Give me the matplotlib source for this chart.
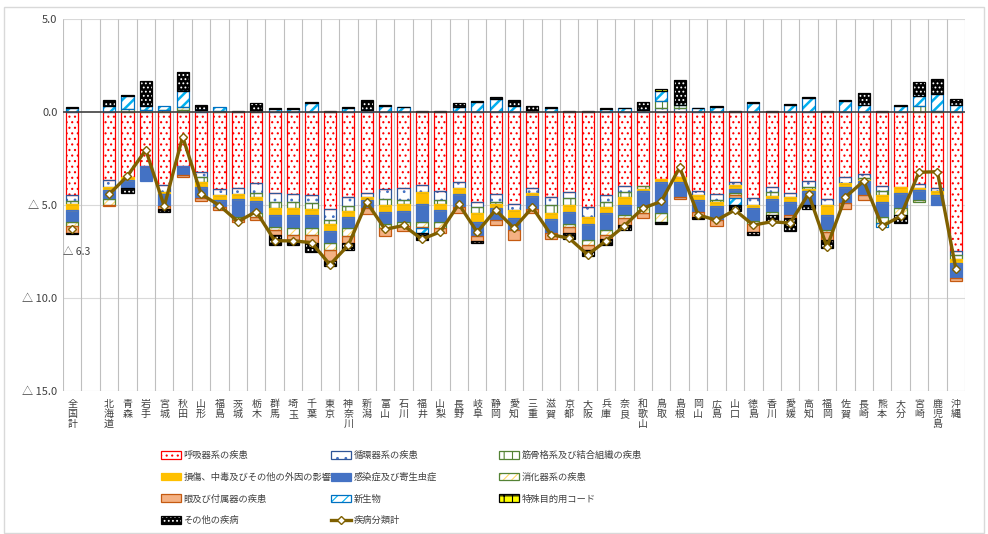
import numpy as np
import matplotlib.pyplot as plt
from matplotlib.patches import Patch, Rectangle
from matplotlib.lines import Line2D
from matplotlib.legend_handler import HandlerTuple

plt.rcParams['font.family'] = ['Noto Sans CJK JP', 'DejaVu Sans']
plt.rcParams['hatch.linewidth'] = 0.8

# 都道府県 (2番目は空欄)
prefs = ['全国計', '', '北海道', '青森', '岩手', '宮城', '秋田', '山形', '福島',
         '茨城', '栃木', '群馬', '埼玉', '千葉', '東京', '神奈川', '新潟', '富山',
         '石川', '福井', '山梨', '長野', '岐阜', '静岡', '愛知', '三重', '滋賀',
         '京都', '大阪', '兵庫', '奈良', '和歌山', '鳥取', '島根', '岡山', '広島',
         '山口', '徳島', '香川', '愛媛', '高知', '福岡', '佐賀', '長崎', '熊本',
         '大分', '宮崎', '鹿児島', '沖縄']

resp = [-4.46, 0, -3.66, -3.48, -2.89, -3.92, -2.89, -3.21, -4.16, -4.10, -3.84, -4.34,
        -4.41, -4.46, -5.23, -4.55, -4.37, -4.14, -4.10, -3.92, -4.25, -3.78, -4.82,
        -4.43, -4.95, -4.10, -4.59, -4.28, -5.09, -4.46, -3.98, -3.96, -3.62, -3.51,
        -4.23, -4.43, -3.75, -4.64, -4.01, -4.34, -3.69, -4.70, -3.51, -3.33, -3.98,
        -4.05, -3.87, -4.10, -7.46]
circ = [-0.32, 0, -0.36, 0, 0, -0.36, 0, -0.30, -0.30, -0.30, -0.54, -0.52,
        -0.45, -0.45, -0.57, -0.48, -0.20, -0.56, -0.63, -0.36, -0.48, -0.29, -0.30,
        -0.39, -0.32, -0.23, -0.41, -0.36, -0.54, -0.36, -0.30, 0, 0.20, 0.20,
        -0.23, -0.30, -0.20, -0.36, -0.30, -0.25, -0.32, -0.30, -0.29, -0.23, -0.25,
        0, -0.23, -0.13, -0.23]
musc = [-0.18, 0, 0, 0.15, 0.10, 0.10, 0.10, -0.23, 0.05, 0, -0.20, -0.32,
        -0.32, -0.32, -0.23, -0.27, 0, -0.30, -0.23, 0, -0.23, 0, -0.32,
        -0.10, 0, 0, -0.45, -0.36, 0, -0.27, -0.27, -0.18, 0.40, 0.15,
        0, -0.09, 0, 0, -0.18, 0, -0.15, 0, 0, -0.12, -0.23,
        0, 0.30, 0.05, -0.23]
injury = [-0.30, 0, -0.20, -0.18, 0, -0.15, 0, -0.27, -0.27, -0.29, -0.23, -0.36,
          -0.36, -0.30, -0.36, -0.36, -0.15, -0.39, -0.34, -0.66, -0.30, -0.34, -0.45,
          -0.23, -0.45, -0.18, -0.32, -0.39, -0.39, -0.36, -0.45, -0.10, -0.13, -0.23,
          -0.27, -0.23, -0.20, -0.18, -0.18, -0.23, -0.10, -0.54, -0.25, -0.05, -0.36,
          -0.32, -0.12, -0.23, -0.22]
infect = [-0.66, 0, -0.47, -0.45, -0.80, -0.60, -0.50, -0.63, -0.40, -0.93, -0.63, -0.63,
          -0.68, -0.72, -0.66, -0.59, -0.45, -0.62, -0.60, -0.95, -0.63, -0.72, -0.75,
          -0.66, -0.63, -0.72, -0.75, -0.63, -0.86, -0.90, -0.54, -0.86, -1.70, -0.84,
          -0.63, -0.75, -0.22, -0.66, -0.72, -0.72, -0.75, -0.81, -0.82, -0.72, -0.81,
          -0.81, -0.50, -0.54, -0.81]
digest = [-0.23, 0, -0.29, 0, 0, 0, 0.15, 0, 0, -0.18, -0.20, -0.20,
          -0.39, -0.36, -0.39, -0.41, 0, -0.20, -0.23, -0.27, -0.36, 0, 0,
          0, 0, 0, 0, -0.18, -0.27, -0.27, -0.18, -0.35, -0.45, 0,
          0, 0, -0.10, -0.18, -0.14, 0, 0, -0.12, 0, 0, -0.36,
          -0.36, -0.12, 0, 0]
eye = [-0.35, 0, -0.10, 0, 0, -0.18, -0.09, -0.12, -0.15, -0.14, -0.18, -0.23,
       -0.27, -0.41, -0.59, -0.36, -0.33, -0.45, -0.25, -0.09, -0.27, -0.32, -0.32,
       -0.27, -0.54, -0.22, -0.32, -0.32, -0.27, -0.23, -0.36, -0.27, 0, -0.10,
       -0.30, -0.32, -0.15, -0.41, 0, -0.18, 0, -0.41, -0.36, -0.27, 0,
       0, 0, 0, -0.15]
neo = [0.20, 0, 0.30, 0.70, 0.20, 0.20, 0.86, 0.12, 0.20, 0, 0, 0.18,
       0.16, 0.47, 0, 0.20, 0.10, 0.32, 0.25, -0.27, 0, 0.25, 0.56,
       0.68, 0.32, 0, 0.20, 0, 0, 0.18, 0.20, 0.10, 0.55, 0.05,
       0.20, 0.27, -0.36, 0.50, 0, 0.38, 0.77, 0, 0.61, 0.38, -0.18,
       0.32, 0.58, 0.93, 0.38]
special = [0.05, 0, 0, 0.05, 0, 0, 0, 0, 0, 0.05, 0, 0.04,
           0.04, 0.05, 0.05, 0.05, 0, 0.03, 0.03, 0.03, 0.08, 0, 0.04,
           0, 0, 0, 0.05, 0.05, 0.05, 0.04, 0.03, 0, 0.08, 0,
           0.03, 0.03, 0.03, 0.03, 0.03, 0.03, 0.04, 0.08, 0.04, 0, 0.03,
           0.03, 0, 0, 0]
other = [-0.05, 0, 0.35, -0.23, 1.35, -0.16, 1.04, 0.23, 0, 0, 0.47, -0.54,
         -0.25, -0.52, -0.23, -0.39, 0.55, 0, 0, -0.35, 0, 0.25, -0.10,
         0.14, 0.32, 0.32, 0, -0.32, -0.30, -0.30, -0.27, 0.45, -0.14, 1.30,
         -0.10, 0, -0.32, -0.18, -0.40, -0.66, -0.20, -0.45, 0, 0.63, 0,
         -0.41, 0.72, 0.81, 0.30]

series_names = ['呼吸器系の疾患', '循環器系の疾患', '筋骨格系及び結合組織の疾患',
                '損傷、中毒及びその他の外因の影響', '感染症及び寄生虫症', '消化器系の疾患',
                '眼及び付属器の疾患', '新生物', '特殊目的用コード', 'その他の疾病']
line_name = '疾病分類計'

# face, hatch, hatch colour, outline, hatch width
styles = [
    ('white', '...', '#FF0000', '#FF0000', 0.8),
    ('white', '..', '#4472C4', '#2F5597', 0.8),
    ('white', '||', '#548235', '#548235', 0.8),
    ('#FFC000', '', '#FFC000', '#FFC000', 0.8),
    ('#4472C4', '', '#4472C4', '#4472C4', 0.8),
    ('white', '////', '#FFD966', '#548235', 0.8),
    ('#F4B183', '', '#F4B183', '#C55A11', 0.8),
    ('white', '///', '#00B0F0', '#0070C0', 1.8),
    ('#FFFF00', '++', 'black', 'black', 0.8),
    ('black', '....', 'white', 'black', 0.8),
]
LINE_COLOR = '#7F6000'
WIDTH = 0.66


def neg_label(v, pos=None):
    if v < 0:
        return '△ %.1f' % -v
    return '%.1f' % v


def stack_bars(ax, x, series):
    pos = np.zeros(len(x))
    neg = np.zeros(len(x))
    for vals, (face, hatch, hcol, edge, hlw) in zip(series, styles):
        v = np.asarray(vals, float)
        bottom = np.where(v >= 0, pos, neg)
        m = v != 0
        with plt.rc_context({'hatch.linewidth': hlw}):
            ax.bar(x[m], v[m], WIDTH, bottom=bottom[m], color=face, edgecolor=hcol,
                   hatch=hatch, linewidth=0, zorder=2)
        ax.bar(x[m], v[m], WIDTH, bottom=bottom[m], fill=False, edgecolor=edge,
               linewidth=0.9, zorder=3)
        pos = pos + np.where(v > 0, v, 0)
        neg = neg + np.where(v < 0, v, 0)


def main():
    series = [resp, circ, musc, injury, infect, digest, eye, neo, special, other]
    x = np.arange(len(prefs))
    total = np.sum(np.array(series, float), axis=0)
    total[1] = np.nan

    fig = plt.figure(figsize=(9.88, 5.34), dpi=100)
    fig.patches.append(Rectangle((4 / 988, 0.002), 980 / 988, 526 / 534, transform=fig.transFigure,
                                 fill=False, edgecolor='#D9D9D9', linewidth=1))
    ax = fig.add_axes([63 / 988, 143 / 534, 902 / 988, 372 / 534])

    stack_bars(ax, x, series)
    ax.plot(x, total, color=LINE_COLOR, lw=2.4, marker='D', ms=4.2, mfc='white',
            mec=LINE_COLOR, mew=1, zorder=5)
    ax.annotate(neg_label(round(total[0], 1)), (0, total[0]), xytext=(3, -13),
                textcoords='offset points', ha='center', va='top', fontsize=7.5,
                color='#404040')

    ax.set_xlim(-0.5, len(prefs) - 0.5)
    ax.set_ylim(-15, 5)
    yt = [5, 0, -5, -10, -15]
    ax.set_yticks(yt)
    ax.set_yticklabels([neg_label(v) for v in yt], fontsize=8, color='#404040')
    ax.set_xticks(x)
    ax.set_xticklabels(['\n'.join(p) for p in prefs], fontsize=7.2, linespacing=0.95,
                       va='top', color='#404040')
    ax.tick_params(length=0)
    ax.tick_params(axis='x', pad=6)
    ax.tick_params(axis='y', pad=4)

    for s in ax.spines.values():
        s.set_visible(False)
    for v in [5, -5, -10, -15]:
        ax.axhline(v, color='#D9D9D9', lw=0.8, zorder=0)
    ax.vlines(np.arange(len(prefs) + 1) - 0.5, -15, 5, color='#BFBFBF', lw=0.8, zorder=0)
    ax.axhline(0, color='#404040', lw=1.2, zorder=4)

    # legend, three columns laid out by hand
    handles = []
    for face, hatch, hcol, edge, hlw in styles:
        with plt.rc_context({'hatch.linewidth': hlw}):
            fill = Patch(facecolor=face, edgecolor=hcol, hatch=hatch, linewidth=0)
        handles.append((fill, Patch(fill=False, edgecolor=edge, linewidth=0.9)))
    line_h = Line2D([], [], color=LINE_COLOR, lw=2.4, marker='D', ms=4.2, mfc='white',
                    mec=LINE_COLOR, mew=1)
    cols = [
        ([handles[0], handles[3], handles[6], handles[9]],
         [series_names[0], series_names[3], series_names[6], series_names[9]]),
        ([handles[1], handles[4], handles[7], line_h],
         [series_names[1], series_names[4], series_names[7], line_name]),
        ([handles[2], handles[5], handles[8]],
         [series_names[2], series_names[5], series_names[8]]),
    ]
    for (hs, ls), xpx in zip(cols, [161, 331, 499]):
        fig.legend(hs, ls, loc='upper left', bbox_to_anchor=(xpx / 988, 83 / 534),
                   frameon=False, fontsize=6.7, handlelength=2.2, handleheight=0.9,
                   handletextpad=0.2, labelspacing=1.35, borderpad=0, borderaxespad=0,
                   handler_map={tuple: HandlerTuple(ndivide=1, pad=0)},
                   labelcolor='#404040')

    fig.savefig('out.png', dpi=100)


if __name__ == "__main__":
    main()
